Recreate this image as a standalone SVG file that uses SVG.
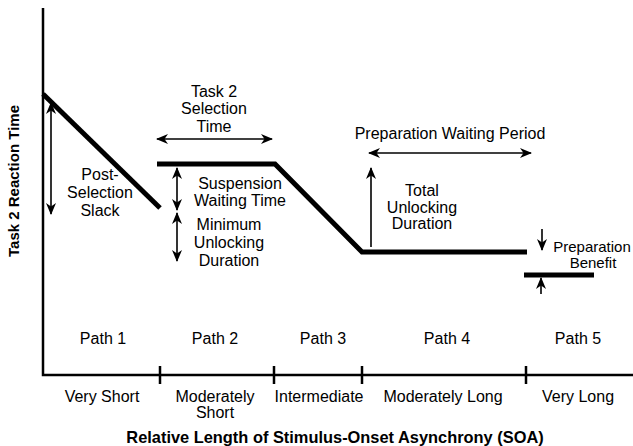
<svg xmlns="http://www.w3.org/2000/svg" width="633" height="446" viewBox="0 0 633 446">
<defs>
<marker id="ah" viewBox="0 0 12 10" refX="11" refY="5" markerWidth="12" markerHeight="10" markerUnits="userSpaceOnUse" orient="auto-start-reverse">
<path d="M0,0 L12,5 L0,10 L3.5,5 Z" fill="#000"/>
</marker>
</defs>
<style>
text{font-family:"Liberation Sans",Arial,sans-serif;font-size:16px;fill:#000;text-anchor:middle}
.b{font-weight:bold;font-size:16.4px}
.yl{font-weight:bold;font-size:15px}
.sm{font-size:15px}
.ax{stroke:#000;stroke-width:2.5;fill:none}
.thick{stroke:#000;stroke-width:5;fill:none;stroke-linejoin:miter}
.arr{stroke:#000;stroke-width:1.6;fill:none;marker-start:url(#ah);marker-end:url(#ah)}
.arr1{stroke:#000;stroke-width:1.6;fill:none;marker-end:url(#ah)}
</style>
<g id="axes">
<path class="ax" d="M43,8 L43,375 L633,375"/>
<path class="ax" d="M160,366 V384 M274,366 V384 M362,366 V384 M526,366 V384"/>
</g>
<g id="curves">
<path class="thick" d="M43,94 L160,208"/>
<path class="thick" d="M157,164 L275,164 L362,252 L527,252"/>
<path class="thick" d="M524,275 L594,275"/>
</g>
<g id="connectors">
<line class="arr" x1="51" y1="103" x2="51" y2="214"/>
<line class="arr" x1="157" y1="139" x2="272" y2="139"/>
<line class="arr" x1="177" y1="168" x2="177" y2="210"/>
<line class="arr" x1="177" y1="213" x2="177" y2="261"/>
<line class="arr" x1="369" y1="153" x2="531" y2="153"/>
<line class="arr1" x1="371" y1="247" x2="371" y2="168"/>
<line class="arr1" x1="542" y1="229" x2="542" y2="250"/>
<line class="arr1" x1="541" y1="294" x2="541" y2="278"/>
</g>
<g id="ylabel"><text class="yl" transform="translate(19,181) rotate(-90)">Task 2 Reaction Time</text></g>
<g id="xlabel"><text class="b" x="335" y="443">Relative Length of Stimulus-Onset Asynchrony (SOA)</text></g>
<g id="post-selection-slack"><text x="100" y="180">Post-</text><text x="100" y="198">Selection</text><text x="100" y="216">Slack</text></g>
<g id="task2-selection-time"><text x="214" y="97">Task 2</text><text x="214" y="114">Selection</text><text x="214" y="132">Time</text></g>
<g id="suspension"><text x="240" y="189">Suspension</text><text x="240" y="206">Waiting Time</text></g>
<g id="minimum-unlocking"><text x="229" y="230">Minimum</text><text x="229" y="248">Unlocking</text><text x="229" y="266">Duration</text></g>
<g id="prep-waiting"><text x="450" y="139">Preparation Waiting Period</text></g>
<g id="total-unlocking"><text x="422" y="196">Total</text><text x="422" y="213">Unlocking</text><text x="422" y="229">Duration</text></g>
<g id="prep-benefit"><text class="sm" x="592" y="252">Preparation</text><text class="sm" x="593" y="268">Benefit</text></g>
<g id="paths">
<text x="103" y="344">Path 1</text><text x="215" y="344">Path 2</text><text x="323" y="344">Path 3</text><text x="447" y="344">Path 4</text><text x="578" y="344">Path 5</text>
</g>
<g id="categories">
<text x="102" y="402">Very Short</text><text x="215" y="402">Moderately</text><text x="215" y="418">Short</text><text x="319" y="402">Intermediate</text><text x="443" y="402">Moderately Long</text><text x="578" y="402">Very Long</text>
</g>
</svg>
